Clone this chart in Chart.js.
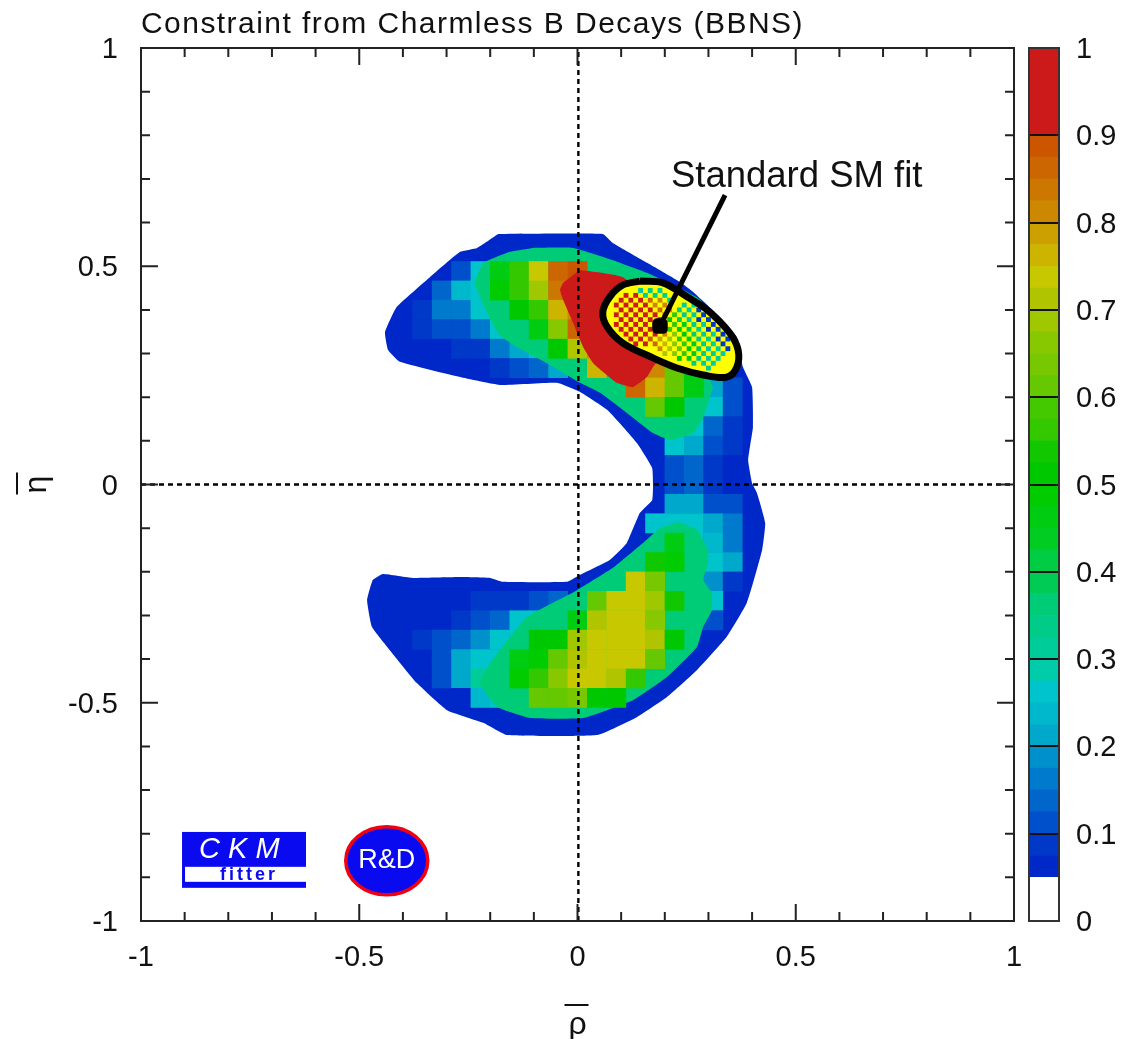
<!DOCTYPE html>
<html>
<head>
<meta charset="utf-8">
<title>Constraint from Charmless B Decays (BBNS)</title>
<script src="https://cdn.jsdelivr.net/npm/chart.js@4"></script>
<style>
    html, body { margin: 0; padding: 0; background: #fff; }
    canvas { position: absolute; left: 0; top: 0; filter: blur(0.6px); }
</style>
</head>
<body>
<canvas id="fitChart" width="1122" height="1039"></canvas>
<canvas id="barChart" width="1122" height="1039"></canvas>
<script>
const titleText = 'Constraint from Charmless B Decays (BBNS)'
const axisTicks = [-1, -0.5, 0, 0.5, 1]
const minorTicks = [-0.9, -0.8, -0.7, -0.6, -0.4, -0.3, -0.2, -0.1, 0.1, 0.2, 0.3, 0.4, 0.6, 0.7, 0.8, 0.9]
const scaleTicks = [0, 0.1, 0.2, 0.3, 0.4, 0.5, 0.6, 0.7, 0.8, 0.9, 1]

// colour scale, one colour per band between two edges
const levelEdges = [0, 0.05, 0.075, 0.1, 0.125, 0.15, 0.175, 0.2, 0.225, 0.25, 0.275, 0.3, 0.325, 0.35, 0.375, 0.4,
    0.425, 0.45, 0.475, 0.5, 0.525, 0.55, 0.575, 0.6, 0.625, 0.65, 0.675, 0.7, 0.725, 0.75, 0.775, 0.8, 0.825, 0.85, 0.875, 0.9, 1]
const levelColors = ['#ffffff', '#0028c8', '#0038c8', '#0050cc', '#0066cc', '#007acc', '#0090cc', '#00a8cc', '#00b8cc', '#00c4cc',
    '#00ccaa', '#00cc99', '#00cc88', '#00cc77', '#00cc55', '#00cc44', '#00cc22', '#00cc11', '#00cc00', '#00c800', '#11c800', '#33c800',
    '#44c800', '#66c800', '#77c800', '#88c800', '#a0c800', '#b0c400', '#c8c800', '#ccb400', '#cca000', '#cc8800', '#cc7700', '#cc6600', '#cc5500', '#cc1a1a']

// 45 x 45 bins: [row from top, first column, values...]
const lowCells = [
    [11, 16, 0.1, 0.25],
    [12, 15, 0.13, 0.24, 0.27],
    [13, 14, 0.08, 0.15, 0.16, 0.25, 0.27],
    [14, 14, 0.09, 0.12, 0.12, 0.17, 0.27, 0.27],
    [15, 15, 0.07, 0.09, 0.09, 0.17, 0.22, 0.26],
    [16, 18, 0.09, 0.1, 0.13, 0.2],
    [17, 29, 0.21, 0.1],
    [18, 28, 0.27, 0.27, 0.1],
    [19, 28, 0.27, 0.14, 0.09],
    [20, 27, 0.26, 0.21, 0.12, 0.08],
    [21, 27, 0.12, 0.13, 0.09, 0.07],
    [22, 27, 0.11, 0.13, 0.09, 0.07],
    [23, 27, 0.2, 0.2, 0.12, 0.1],
    [24, 26, 0.27, 0.27, 0.27, 0.2, 0.15],
    [25, 28, 0.27, 0.23, 0.17],
    [26, 28, 0.27, 0.26, 0.21],
    [27, 28, 0.27, 0.19, 0.08],
    [28, 17, 0.075, 0.08, 0.09, 0.11, 0.13],
    [28, 28, 0.27, 0.27],
    [29, 15, 0.07, 0.08, 0.1, 0.14, 0.25, 0.27],
    [29, 28, 0.12, 0.1],
    [30, 14, 0.08, 0.1, 0.13, 0.19, 0.25, 0.27],
    [31, 15, 0.12, 0.2, 0.25, 0.27],
    [32, 15, 0.1, 0.22, 0.3],
    [33, 16, 0.07, 0.23, 0.27]
]
const highCells = [
    [11, 18, 0.47, 0.55, 0.73, 0.86, 0.88],
    [12, 18, 0.48, 0.55, 0.68, 0.83, 0.9],
    [13, 19, 0.5, 0.57, 0.76, 0.8],
    [14, 20, 0.47, 0.65, 0.86],
    [15, 21, 0.5, 0.72, 0.8],
    [16, 23, 0.75],
    [16, 26, 0.8, 0.62, 0.45],
    [17, 25, 0.87, 0.76, 0.6, 0.46],
    [18, 26, 0.6, 0.5],
    [25, 27, 0.45],
    [26, 26, 0.53, 0.49],
    [27, 25, 0.74, 0.63],
    [28, 23, 0.6, 0.74, 0.74, 0.68, 0.54],
    [29, 22, 0.47, 0.71, 0.74, 0.74, 0.66],
    [30, 20, 0.5, 0.5, 0.69, 0.74, 0.74, 0.74, 0.7, 0.5],
    [31, 19, 0.45, 0.49, 0.6, 0.7, 0.74, 0.74, 0.74, 0.6],
    [32, 19, 0.48, 0.57, 0.66, 0.73, 0.74, 0.71, 0.55],
    [33, 20, 0.6, 0.62, 0.63, 0.5, 0.5]
]
// 180 x 180 bins, every other bin is left empty in the standard fit
const fitCells = [
    [50, 103, 0.3, 0.33, 0.3],
    [51, 100, 0.95, 0.95, 0.32, 0.33, 0.3],
    [52, 99, 0.95, 0.95, 0.95, 0.85, 0.82, 0.3],
    [53, 98, 0.95, 0.95, 0.95, 0.95, 0.82, 0.8, null, 0.32, 0.3],
    [54, 99, 0.95, 0.95, 0.95, 0.95, 0.85, 0.8, 0.33, 0.3, 0.08],
    [55, 98, 0.95, 0.95, 0.95, 0.95, 0.95, 0.8, 0.55, 0.33, 0.3, 0.08],
    [56, 99, 0.95, 0.95, 0.95, 0.95, 0.9, 0.5, 0.4, 0.32, 0.08, 0.08],
    [57, 98, 0.95, 0.95, 0.95, 0.95, 0.95, null, 0.55, 0.45, 0.33, 0.28, 0.08],
    [58, 99, 0.95, 0.95, 0.95, 0.95, 0.95, 0.55, 0.5, 0.4, 0.32, 0.08, 0.08],
    [59, 100, 0.95, 0.95, 0.95, 0.9, 0.8, 0.65, 0.5, 0.35, 0.3, 0.28, 0.08],
    [60, 101, 0.95, 0.95, 0.88, 0.78, 0.68, 0.55, 0.45, 0.33, 0.3, 0.08, 0.08],
    [61, 102, 0.95, 0.92, 0.85, 0.75, 0.65, 0.55, 0.45, 0.33, 0.3, 0.08],
    [62, 107, 0.8, 0.7, 0.62, 0.5, 0.38, 0.32, 0.3, 0.08],
    [63, 108, 0.72, 0.65, 0.55, 0.45, 0.33, 0.3, 0.28],
    [64, 111, 0.5, 0.45, 0.35, 0.32, 0.3],
    [65, 114, 0.33, 0.32, 0.3],
    [66, 117, 0.3]
]

// contours as [x, y] pairs in rho, eta
const outerContour = [[-0.182, 0.574], [0.058, 0.574], [0.081, 0.553], [0.136, 0.521], [0.189, 0.491], [0.235, 0.464], [0.265, 0.441],
    [0.326, 0.384], [0.365, 0.338], [0.379, 0.269], [0.4, 0.223], [0.402, 0.132], [0.391, 0.056], [0.4, 0.003], [0.411, -0.019],
    [0.43, -0.088], [0.423, -0.15], [0.388, -0.271], [0.342, -0.349], [0.274, -0.425], [0.205, -0.487], [0.136, -0.533], [0.045, -0.574],
    [-0.162, -0.574], [-0.216, -0.546], [-0.299, -0.517], [-0.368, -0.455], [-0.436, -0.372], [-0.471, -0.326], [-0.482, -0.265],
    [-0.469, -0.219], [-0.446, -0.205], [-0.377, -0.214], [-0.269, -0.212], [-0.2, -0.214], [-0.171, -0.223], [-0.024, -0.223],
    [0.006, -0.207], [0.074, -0.173], [0.113, -0.134], [0.143, -0.065], [0.171, -0.036], [0.173, -0.006], [0.171, 0.038], [0.136, 0.095],
    [0.068, 0.171], [0.006, 0.212], [-0.047, 0.233], [-0.178, 0.228], [-0.269, 0.246], [-0.407, 0.281], [-0.434, 0.308], [-0.441, 0.349],
    [-0.414, 0.407], [-0.338, 0.475], [-0.269, 0.533], [-0.23, 0.542]]
const upperContour = [[-0.102, 0.542], [-0.01, 0.542], [0.081, 0.514], [0.159, 0.485], [0.281, 0.423], [0.338, 0.285], [0.304, 0.239],
    [0.31, 0.223], [0.288, 0.155], [0.265, 0.118], [0.212, 0.102], [0.173, 0.118], [0.113, 0.164], [0.052, 0.21], [0.006, 0.233],
    [-0.07, 0.278], [-0.139, 0.315], [-0.178, 0.342], [-0.207, 0.393], [-0.235, 0.462], [-0.216, 0.507], [-0.155, 0.533]]
const lowerContour = [[0.23, -0.086], [0.274, -0.104], [0.299, -0.15], [0.299, -0.18], [0.288, -0.219], [0.308, -0.249], [0.308, -0.288],
    [0.288, -0.326], [0.274, -0.372], [0.205, -0.441], [0.127, -0.494], [0.013, -0.535], [-0.109, -0.535], [-0.184, -0.51], [-0.223, -0.455],
    [-0.2, -0.409], [-0.116, -0.304], [-0.001, -0.242], [0.081, -0.191], [0.15, -0.134], [0.189, -0.1]]
const peakContour = [[-0.033, 0.462], [-0.01, 0.48], [0.006, 0.491], [0.104, 0.475], [0.235, 0.354], [0.173, 0.269], [0.159, 0.246],
    [0.127, 0.223], [0.09, 0.233], [0.036, 0.278], [0.013, 0.315], [-0.01, 0.37], [-0.033, 0.423], [-0.04, 0.446]]
const fitContour = [[0.143, 0.466], [0.196, 0.462], [0.251, 0.43], [0.297, 0.4], [0.349, 0.347], [0.368, 0.308], [0.365, 0.269], [0.342, 0.246],
    [0.288, 0.251], [0.228, 0.267], [0.173, 0.29], [0.104, 0.324], [0.068, 0.361], [0.058, 0.395], [0.074, 0.43], [0.104, 0.457]]
const arrowLine = [[0.338, 0.663], [0.189, 0.363]]
const smLabel = { text: 'Standard SM fit', x: 0.214, y: 0.705 }

function levelColor(v) {
    for (let i = 0; i < levelColors.length; i++) {
        if (v < levelEdges[i + 1]) return levelColors[i]
    }
    return levelColors[levelColors.length - 1]
}

function binPoints(rows, bins) {
    const out = []
    const step = 2 / bins
    rows.forEach(row => {
        row.slice(2).forEach((v, i) => {
            if (v === null) return
            const col = row[1] + i
            out.push({ x: -1 + (col + 0.5) * step, y: 1 - (row[0] + 0.5) * step, v: v })
        })
    })
    return out
}

function fitPoints(rows) {
    const out = []
    rows.forEach(row => {
        row.slice(2).forEach((v, i) => {
            if (v === null) return
            const col = row[1] + i * 2
            out.push({ x: -1 + col / 90, y: 1 - row[0] / 90, v: v })
        })
    })
    return out
}

function pairs(list) {
    return list.map(p => ({ x: p[0], y: p[1] }))
}

function closed(list) {
    return pairs(list.concat([list[0]]))
}

function polygon(list, color, order) {
    return {
        type: 'scatter', data: closed(list), showLine: true, fill: 'shape', backgroundColor: color,
        borderWidth: 0, borderColor: color, tension: 0.12, pointRadius: 0, order: order
    }
}

function cells(points, size, order) {
    return {
        type: 'scatter', data: points, pointStyle: 'rect', pointRadius: size * Math.SQRT1_2, pointBorderWidth: 0,
        pointHoverRadius: size * Math.SQRT1_2, pointBackgroundColor: c => levelColor(c.raw.v), showLine: false, order: order
    }
}

function zeroLine(points) {
    return {
        type: 'scatter', data: pairs(points), showLine: true, fill: false, borderColor: '#000', borderWidth: 2.4,
        borderDash: [5, 4], pointRadius: 0, order: 7
    }
}

const plotFont = 'Liberation Sans, Arial, sans-serif'

// ticks point inwards on all four sides, plus the frame
const frameTicks = {
    id: 'frameTicks',
    afterDatasetsDraw(chart) {
        const { ctx, chartArea: a, scales: { x, y } } = chart
        ctx.save()
        ctx.strokeStyle = '#222'
        ctx.lineWidth = 2
        ctx.strokeRect(a.left, a.top, a.width, a.height)
        const mark = (list, len) => list.forEach(t => {
            const px = x.getPixelForValue(t)
            const py = y.getPixelForValue(t)
            ctx.beginPath()
            ctx.moveTo(px, a.top); ctx.lineTo(px, a.top + len)
            ctx.moveTo(px, a.bottom); ctx.lineTo(px, a.bottom - len)
            ctx.moveTo(a.left, py); ctx.lineTo(a.left + len, py)
            ctx.moveTo(a.right, py); ctx.lineTo(a.right - len, py)
            ctx.stroke()
        })
        mark(minorTicks, 9)
        mark(axisTicks, 17)

        // overbars of the two axis titles
        ctx.beginPath()
        ctx.moveTo(x.getPixelForValue(0) - 13, 1005); ctx.lineTo(x.getPixelForValue(0) + 11, 1005)
        ctx.moveTo(17, y.getPixelForValue(0) - 12); ctx.lineTo(17, y.getPixelForValue(0) + 10)
        ctx.strokeStyle = '#111'
        ctx.stroke()
        ctx.restore()
    }
}

// title, text label and the two logos in the lower left corner
const notes = {
    id: 'notes',
    afterDatasetsDraw(chart) {
        const { ctx, chartArea: a, scales: { x, y } } = chart
        ctx.save()
        ctx.fillStyle = '#111'
        ctx.font = '30px ' + plotFont
        ctx.letterSpacing = '1.45px'
        ctx.fillText(titleText, a.left, 33)
        ctx.letterSpacing = '0px'

        ctx.font = '36.5px ' + plotFont
        ctx.textBaseline = 'middle'
        ctx.fillText(smLabel.text, x.getPixelForValue(smLabel.x), y.getPixelForValue(smLabel.y))

        const lx = x.getPixelForValue(-0.906), rx = x.getPixelForValue(-0.622)
        const ty = y.getPixelForValue(-0.796), by = y.getPixelForValue(-0.924)
        ctx.fillStyle = '#0a0af0'
        ctx.fillRect(lx, ty, rx - lx, by - ty)
        ctx.fillStyle = '#fff'
        ctx.fillRect(lx + 3, by - 21, rx - lx - 3, 15)
        ctx.font = 'italic 29px ' + plotFont
        ctx.fillText('C K M', lx + 17, ty + 18)
        ctx.fillStyle = '#0a0af0'
        ctx.font = 'bold 18px ' + plotFont
        ctx.letterSpacing = '3px'
        ctx.fillText('fitter', lx + 38, by - 13)
        ctx.letterSpacing = '0px'

        ctx.beginPath()
        ctx.ellipse(x.getPixelForValue(-0.437), y.getPixelForValue(-0.862), 41, 34, 0, 0, Math.PI * 2)
        ctx.fillStyle = '#0a0af0'
        ctx.fill()
        ctx.lineWidth = 3.5
        ctx.strokeStyle = '#f00010'
        ctx.stroke()
        ctx.fillStyle = '#fff'
        ctx.font = '27px ' + plotFont
        ctx.textAlign = 'center'
        ctx.fillText('R&D', x.getPixelForValue(-0.437), y.getPixelForValue(-0.862))
        ctx.restore()
    }
}

new Chart(document.getElementById('fitChart'), {
    type: 'scatter',
    data: {
        datasets: [
            polygon(outerContour, levelColor(0.06), 20),
            cells(binPoints(lowCells, 45), 19.8, 19),
            polygon(upperContour, levelColor(0.36), 18),
            polygon(lowerContour, levelColor(0.36), 17),
            cells(binPoints(highCells, 45), 19.8, 16),
            polygon(peakContour, levelColor(0.95), 15),
            zeroLine([[-1, 0], [1, 0]]),
            zeroLine([[0.002, -1], [0.002, 1]]),
            {
                type: 'scatter', data: closed(fitContour), showLine: true, fill: 'shape', backgroundColor: '#ffff00',
                borderWidth: 0, tension: 0.35, pointRadius: 0, order: 6
            },
            cells(fitPoints(fitCells), 4.85, 5),
            {
                type: 'scatter', data: closed(fitContour), showLine: true, fill: false, borderColor: '#000',
                borderWidth: 7, tension: 0.35, pointRadius: 0, order: 4
            },
            {
                type: 'scatter', data: pairs(arrowLine), showLine: true, fill: false, borderColor: '#000', borderWidth: 5,
                pointStyle: 'rectRounded', pointBackgroundColor: '#000', pointBorderWidth: 0, pointRadius: [0, 9], order: 3
            }
        ]
    },
    options: {
        responsive: false,
        animation: false,
        events: [],
        layout: { padding: { left: 0, right: 108, top: 48, bottom: 0 } },
        plugins: {
            legend: { display: false },
            tooltip: { enabled: false },
            title: { display: false }
        },
        scales: {
            x: {
                type: 'linear', min: -1, max: 1,
                grid: { display: false, drawTicks: false },
                border: { display: false },
                afterBuildTicks: s => { s.ticks = axisTicks.map(v => ({ value: v })) },
                afterFit: s => { s.height = 118 },
                ticks: { color: '#111', font: { family: plotFont, size: 29 }, padding: 20, maxRotation: 0, autoSkip: false, callback: v => String(v) },
                title: { display: true, text: '\u03C1', color: '#111', font: { family: plotFont, size: 32 }, padding: { top: 0, bottom: -5 } }
            },
            y: {
                type: 'linear', min: -1, max: 1,
                grid: { display: false, drawTicks: false },
                border: { display: false },
                afterBuildTicks: s => { s.ticks = axisTicks.map(v => ({ value: v })) },
                afterFit: s => { s.width = 141 },
                ticks: { color: '#111', font: { family: plotFont, size: 29 }, padding: 23, labelOffset: 2, autoSkip: false, callback: v => String(v) },
                title: { display: true, text: '\u03B7', color: '#111', font: { family: plotFont, size: 32 }, padding: { top: 18, bottom: 0 } }
            }
        }
    },
    plugins: [frameTicks, notes]
})

// colour scale on the right
const bandValues = levelColors.map((c, i) => levelEdges[i + 1] - levelEdges[i])

new Chart(document.getElementById('barChart'), {
    type: 'bar',
    data: {
        labels: [''],
        datasets: levelColors.map((c, i) => ({
            data: [bandValues[i]], backgroundColor: c, borderWidth: 0, barPercentage: 1, categoryPercentage: 1
        }))
    },
    options: {
        responsive: false,
        animation: false,
        events: [],
        layout: { padding: { left: 1029, right: 0, top: 48, bottom: 118 } },
        plugins: { legend: { display: false }, tooltip: { enabled: false }, title: { display: false } },
        scales: {
            x: { stacked: true, display: false },
            y: {
                stacked: true, position: 'right', min: 0, max: 1,
                afterBuildTicks: s => { s.ticks = scaleTicks.map(v => ({ value: v })) },
                afterFit: s => { s.width = 63 },
                grid: { color: '#111', lineWidth: 2, drawTicks: false, z: 1 },
                border: { color: '#222', width: 2, z: 1 },
                ticks: { color: '#111', font: { family: plotFont, size: 29 }, padding: 17, labelOffset: 2, autoSkip: false, callback: v => String(v) }
            }
        }
    },
    plugins: [{
        id: 'barFrame',
        afterDraw(chart) {
            const { ctx, chartArea: a } = chart
            ctx.save()
            ctx.strokeStyle = '#333'
            ctx.lineWidth = 2
            ctx.strokeRect(a.left, a.top, a.width, a.height)
            ctx.restore()
        }
    }]
})
</script>
</body>
</html>
